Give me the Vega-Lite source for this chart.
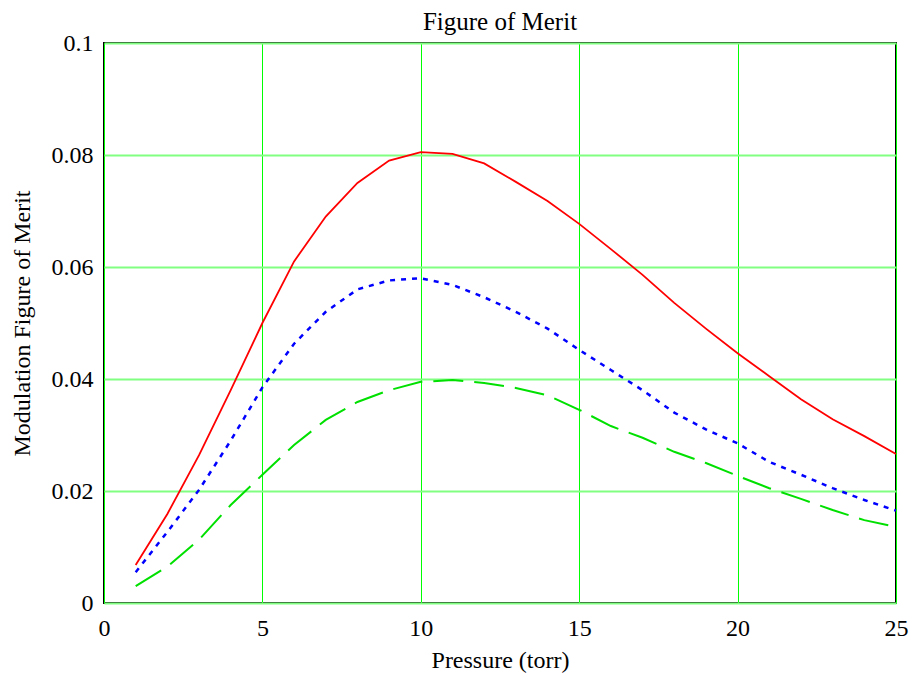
{
  "$schema": "https://vega.github.io/schema/vega-lite/v6.json",
  "width": 792,
  "height": 560,
  "autosize": {"type": "none"},
  "padding": {"left": 104, "top": 43, "right": 20, "bottom": 74},
  "background": "white",
  "config": {
    "view": {"stroke": "black", "strokeWidth": 2},
    "font": "Liberation Serif"
  },
  "title": {
    "text": "Figure of Merit",
    "font": "Liberation Serif",
    "fontSize": 25,
    "fontWeight": "normal",
    "color": "black",
    "offset": -4
  },
  "data": {
    "values": [
      {"p": 1, "red": 0.0068, "blue": 0.0055, "green": 0.0030},
      {"p": 2, "red": 0.0159, "blue": 0.0127, "green": 0.0065},
      {"p": 3, "red": 0.0264, "blue": 0.0202, "green": 0.0113},
      {"p": 4, "red": 0.0380, "blue": 0.0290, "green": 0.0175},
      {"p": 5, "red": 0.0500, "blue": 0.0385, "green": 0.0229},
      {"p": 6, "red": 0.0610, "blue": 0.0463, "green": 0.0282},
      {"p": 7, "red": 0.0690, "blue": 0.0520, "green": 0.0327},
      {"p": 8, "red": 0.0750, "blue": 0.0560, "green": 0.0359},
      {"p": 9, "red": 0.0790, "blue": 0.0576, "green": 0.0380},
      {"p": 10, "red": 0.0805, "blue": 0.0580, "green": 0.0395},
      {"p": 11, "red": 0.0802, "blue": 0.0568, "green": 0.0398},
      {"p": 12, "red": 0.0785, "blue": 0.0546, "green": 0.0393},
      {"p": 13, "red": 0.0752, "blue": 0.0520, "green": 0.0384},
      {"p": 14, "red": 0.0718, "blue": 0.0490, "green": 0.0371},
      {"p": 15, "red": 0.0677, "blue": 0.0452, "green": 0.0345},
      {"p": 16, "red": 0.0632, "blue": 0.0416, "green": 0.0316},
      {"p": 17, "red": 0.0586, "blue": 0.0380, "green": 0.0295},
      {"p": 18, "red": 0.0536, "blue": 0.0340, "green": 0.0270},
      {"p": 19, "red": 0.0490, "blue": 0.0310, "green": 0.0250},
      {"p": 20, "red": 0.0446, "blue": 0.0285, "green": 0.0227},
      {"p": 21, "red": 0.0405, "blue": 0.0252, "green": 0.0205},
      {"p": 22, "red": 0.0364, "blue": 0.0229, "green": 0.0186},
      {"p": 23, "red": 0.0328, "blue": 0.0205, "green": 0.0166},
      {"p": 24, "red": 0.0298, "blue": 0.0184, "green": 0.0148},
      {"p": 25, "red": 0.0266, "blue": 0.0165, "green": 0.0136}
    ]
  },
  "encoding": {
    "x": {
      "field": "p",
      "type": "quantitative",
      "scale": {"domain": [0, 25], "nice": false},
      "axis": {
        "title": "Pressure (torr)",
        "values": [0, 5, 10, 15, 20, 25],
        "grid": true,
        "gridColor": "#00ff00",
        "gridWidth": 1,
        "gridOpacity": 1,
        "domain": false,
        "ticks": false,
        "labelFont": "Liberation Serif",
        "labelFontSize": 24,
        "labelColor": "black",
        "labelPadding": 13,
        "labelFlush": false,
        "titleFont": "Liberation Serif",
        "titleFontSize": 24,
        "titleFontWeight": "normal",
        "titleColor": "black",
        "titlePadding": 8
      }
    }
  },
  "layer": [
    {
      "mark": {"type": "line", "color": "#ff0000", "strokeWidth": 1.8},
      "encoding": {
        "y": {
          "field": "red",
          "type": "quantitative",
          "scale": {"domain": [0, 0.1], "nice": false},
          "axis": {
            "title": "Modulation Figure of Merit",
            "values": [0, 0.02, 0.04, 0.06, 0.08, 0.1],
            "format": "~g",
            "grid": true,
            "gridColor": "#80ff80",
            "gridWidth": 2,
            "gridOpacity": 1,
            "domain": false,
            "ticks": false,
            "labelFont": "Liberation Serif",
            "labelFontSize": 24,
            "labelColor": "black",
            "labelPadding": 11,
            "labelFlush": false,
            "titleFont": "Liberation Serif",
            "titleFontSize": 24,
            "titleFontWeight": "normal",
            "titleColor": "black",
            "titlePadding": 17
          }
        }
      }
    },
    {
      "mark": {"type": "line", "color": "#0000ff", "strokeWidth": 2.5, "strokeDash": [5, 6]},
      "encoding": {"y": {"field": "blue", "type": "quantitative"}}
    },
    {
      "mark": {"type": "line", "color": "#00e000", "strokeWidth": 2, "strokeDash": [30, 11]},
      "encoding": {"y": {"field": "green", "type": "quantitative"}}
    }
  ]
}
